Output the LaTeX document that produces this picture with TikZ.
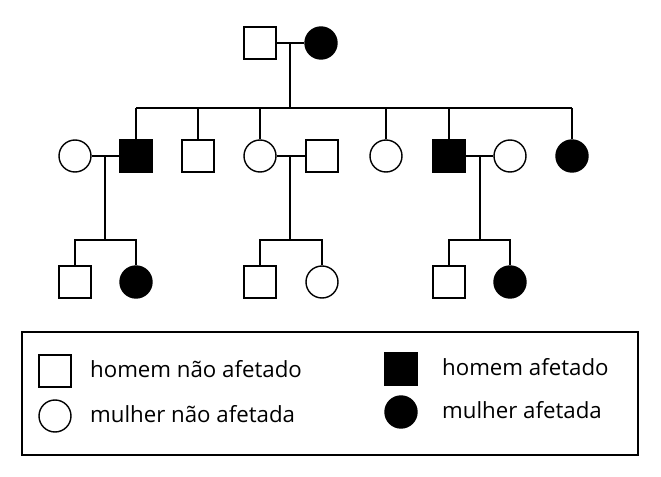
\documentclass[tikz,border=0pt]{standalone}
\usepackage{fontspec}
\setmainfont{Open Sans}
\usetikzlibrary{positioning}
\tikzset{
 male/.style={draw,line width=1.2pt,minimum size=0.96cm,inner sep=0pt},
 female/.style={draw,circle,line width=1.2pt,minimum size=0.96cm,inner sep=0pt},
 aff/.style={fill=black},
 link/.style={line width=1.2pt},
 lbl/.style={right,font=\fontsize{19}{22}\selectfont}
}
\begin{document}
\begin{tikzpicture}[x=0.03cm,y=-0.03cm]
 \useasboundingbox (0,0) rectangle (661,477);
 % generation 1
 \node[male] (g1m) at (260,43) {};
 \node[female,aff] (g1f) at (321,43) {};
 \draw[link] (g1m) -- (g1f);
 \coordinate (m1) at (290,43);
 \coordinate (s1) at (290,108);
 \draw[link] (m1) -- (s1);
 % generation 2
 \node[female] (a) at (75,156) {};
 \node[male,aff] (b) at (136,156) {};
 \node[male] (c) at (198,156) {};
 \node[female] (d) at (260,156) {};
 \node[male] (e) at (322,156) {};
 \node[female] (f) at (386,156) {};
 \node[male,aff] (g) at (449,156) {};
 \node[female] (h) at (510,156) {};
 \node[female,aff] (i) at (572,156) {};
 \coordinate (sl) at (136,108);
 \coordinate (sr) at (572,108);
 \draw[link] (sl) -- (sr);
 \foreach \n in {b,c,d,f,g,i} {
  \draw[link] (\n) -- (\n |- sl);
 }
 \draw[link] (a) -- (b);
 \draw[link] (d) -- (e);
 \draw[link] (g) -- (h);
 % generation 3
 \node[male] (p1) at (75,282) {};
 \node[female,aff] (q1) at (136,282) {};
 \node[male] (p2) at (260,282) {};
 \node[female] (q2) at (322,282) {};
 \node[male] (p3) at (449,282) {};
 \node[female,aff] (q3) at (510,282) {};
 \foreach \x/\p/\q in {105/1/1,290/2/2,480/3/3} {
  \coordinate (t\p) at (\x,156);
  \coordinate (u\p) at (\x,240);
  \draw[link] (t\p) -- (u\p);
  \draw[link] (p\p) |- (u\p) -| (q\q);
 }
 % legend
 \draw[line width=1pt] (22,332) rectangle (638,455);
 \node[male] (k1) at (55,371) {};
 \node[lbl] at (86,369) {homem não afetado};
 \node[female] (k2) at (55,416) {};
 \node[lbl] at (86,414) {mulher não afetada};
 \node[male,aff] (k3) at (401,369) {};
 \node[lbl] at (438,367) {homem afetado};
 \node[female,aff] (k4) at (401,412) {};
 \node[lbl] at (438,410) {mulher afetada};
\end{tikzpicture}
\end{document}
